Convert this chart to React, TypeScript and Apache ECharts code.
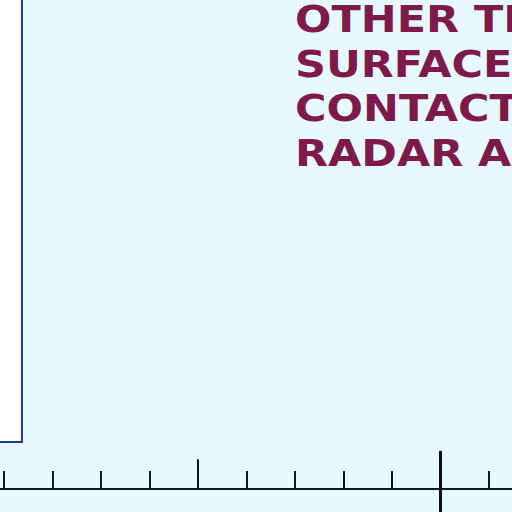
import React, { useEffect, useRef } from "react";
import * as echarts from "echarts";

// Data
const barPositions = [-0.3];
const barBase = [9.6];
const barTop = [130];
const majorTicks = [4, 9];
const majorTickTops = [6.1, 7.8];
const majorTickBottoms = [0, -4.7];
const labelLines = ["OTHER TI", "SURFACE", "CONTACT", "RADAR A"];

const BAR_HALF_WIDTH = 0.67; // in x-axis units

export default function App() {
  const ref = useRef<HTMLDivElement>(null);
  useEffect(() => {
    if (!ref.current) return;
    const chart = echarts.init(ref.current, undefined, { renderer: "svg" });
    const maroon = "#7d1a4b";
    const option: any = {
      animation: false,
      backgroundColor: "#e7f9fd",
      grid: {
        left: -44.5,
        right: -6,
        top: 0,
        bottom: 0,
        containLabel: false,
        outerBoundsMode: "none",
      },
      xAxis: {
        type: "value",
        min: -1,
        max: 10.6,
        interval: 1,
        splitLine: { show: false },
        axisLabel: { show: false },
        axisLine: { show: true, onZero: true, lineStyle: { color: "#15152a", width: 2 } },
        axisTick: { show: true, inside: true, length: 18, lineStyle: { color: "#15152a", width: 2 } },
      },
      yAxis: {
        type: "value",
        min: -4.7,
        max: 100,
        show: false,
        splitLine: { show: false },
      },
      series: [
        {
          type: "custom",
          silent: true,
          clip: false,
          z: 1,
          data: barPositions.map((x, i) => [x, barBase[i], barTop[i]]),
          renderItem: (params: any, api: any) => {
            const x = api.value(0);
            const p1 = api.coord([x - BAR_HALF_WIDTH, api.value(2)]);
            const p2 = api.coord([x + BAR_HALF_WIDTH, api.value(1)]);
            return {
              type: "rect",
              shape: { x: p1[0], y: p1[1], width: p2[0] - p1[0], height: p2[1] - p1[1] },
              style: { fill: "#ffffff", stroke: "#1d3b8f", lineWidth: 2 },
            };
          },
          markLine: {
            silent: true,
            symbol: ["none", "none"],
            label: { show: false },
            data: majorTicks.map((x, i) => [
              { coord: [x, majorTickBottoms[i]], lineStyle: { color: "#111", width: i === 1 ? 3 : 2, type: "solid" } },
              { coord: [x, majorTickTops[i]] },
            ]),
          },
        },
      ],
      graphic: labelLines.map((t, i) => ({
        type: "text",
        x: 295,
        y: 19 + i * 44.5,
        scaleX: 1.13,
        style: {
          text: t,
          font: "bold 38px 'DejaVu Sans'",
          fill: maroon,
          textVerticalAlign: "middle",
          textAlign: "left",
        },
      })),
    };
    chart.setOption(option);
    return () => chart.dispose();
  }, []);
  return (
    <div
      ref={ref}
      style={{ position: "fixed", left: 0, top: 0, width: 512, height: 512 }}
    />
  );
}
